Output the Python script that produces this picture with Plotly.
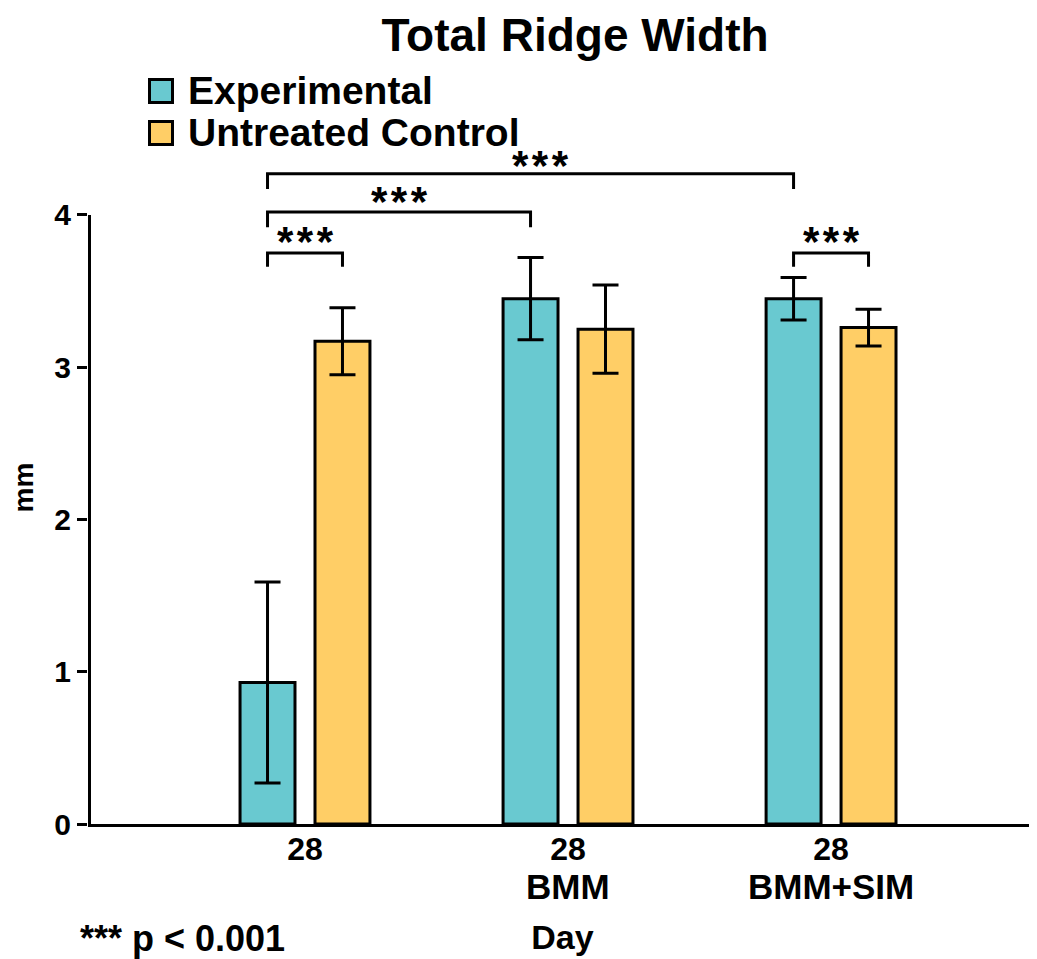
import plotly.graph_objects as go

# ---------------- data ----------------
groups = ["28", "28", "28"]
group_sublabels = ["", "BMM", "BMM+SIM"]
series_names = ["Experimental", "Untreated Control"]
experimental = [0.93, 3.45, 3.45]
experimental_err = [0.66, 0.27, 0.14]
control = [3.17, 3.25, 3.26]
control_err = [0.22, 0.29, 0.12]
y_ticks = [0, 1, 2, 3, 4]

# significance brackets: (group_a, series_a, group_b, series_b, label)
brackets = [
    (0, 0, 0, 1, "***"),
    (0, 0, 1, 0, "***"),
    (0, 0, 2, 0, "***"),
    (2, 0, 2, 1, "***"),
]
bracket_top = [3.75, 4.02, 4.27, 3.75]
bracket_leg = [3.66, 3.92, 4.17, 3.66]
footnote = "*** p < 0.001"

# ---------------- style ----------------
TEAL = "#69C9D0"
GOLD = "#FFCE66"
FONT = "Liberation Sans, Arial, sans-serif"
OFF = 8                       # default page margin of the html body
W, H = 1037 - OFF, 959 - OFF
ML, MR, MT, MB = 80, 0, 143, 135
BARGAP, BARGROUPGAP = 0.43, 0.267
X_RANGE = [-0.825, 2.783]
Y_RANGE = [0, 4.42]
star_xshift = [0, 0, 10, 0]
star_yshift = [12, 10, 8, 12]

half = (1 - BARGAP) / 4.0          # offset of each series from group centre
series_offset = [-half, half]

pw, ph = W - ML - MR, H - MT - MB


def px_x(px):
    return (px - OFF - ML) / pw


def px_y(py):
    return (H - MB - (py - OFF)) / ph


fig = go.Figure()
x_idx = list(range(len(groups)))
for name, vals, errs, col in [
    (series_names[0], experimental, experimental_err, TEAL),
    (series_names[1], control, control_err, GOLD),
]:
    fig.add_trace(go.Bar(
        x=x_idx, y=vals, name=name,
        marker=dict(color=col, line=dict(color="black", width=3)),
        error_y=dict(type="data", array=errs, visible=True,
                     color="black", thickness=3, width=13),
        showlegend=False,
    ))

shapes = []
annotations = []

# y axis line limited to 0..4
shapes.append(dict(type="line", xref="x", yref="y",
                   x0=X_RANGE[0], x1=X_RANGE[0], y0=0, y1=max(y_ticks),
                   line=dict(color="black", width=6), layer="above"))

# brackets
for (ga, sa, gb, sb, lab), yt, yl, xs, ys in zip(brackets, bracket_top, bracket_leg,
                                                star_xshift, star_yshift):
    xa = x_idx[ga] + series_offset[sa]
    xb = x_idx[gb] + series_offset[sb]
    shapes.append(dict(type="path", xref="x", yref="y",
                       path=f"M {xa},{yl} L {xa},{yt} L {xb},{yt} L {xb},{yl}",
                       line=dict(color="black", width=3), layer="above"))
    annotations.append(dict(xref="x", yref="y", x=(xa + xb) / 2, y=yt,
                            text="<b>" + "\u200a".join(lab) + "</b>", showarrow=False,
                            yanchor="middle", yshift=ys, xshift=xs,
                            font=dict(family=FONT, size=42, color="black")))

# group sub-labels under the tick labels
for gi, sub in zip(x_idx, group_sublabels):
    if sub:
        annotations.append(dict(xref="x", yref="paper", x=gi, y=px_y(886),
                                xanchor="center", yanchor="middle", showarrow=False,
                                text=f"<b>{sub}</b>",
                                font=dict(family=FONT, size=35, color="black")))

# manual legend
legend_cols = [TEAL, GOLD]
legend_y_px = [90, 132]
for name, col, ypx in zip(series_names, legend_cols, legend_y_px):
    shapes.append(dict(type="rect", xref="paper", yref="paper",
                       xsizemode="pixel", ysizemode="pixel",
                       xanchor=px_x(161), yanchor=px_y(ypx + 1),
                       x0=-11.5, x1=11.5, y0=-11.5, y1=11.5,
                       fillcolor=col, line=dict(color="black", width=3)))
    annotations.append(dict(xref="paper", yref="paper", x=px_x(186), y=px_y(ypx),
                            xanchor="left", yanchor="middle", showarrow=False,
                            text=f"<b>{name}</b>",
                            font=dict(family=FONT, size=39, color="black")))

# footnote
annotations.append(dict(xref="paper", yref="paper", x=px_x(78), y=px_y(938),
                        xanchor="left", yanchor="middle", showarrow=False,
                        text=f"<b>{footnote}</b>",
                        font=dict(family=FONT, size=36, color="black")))

fig.update_layout(
    width=W, height=H,
    margin=dict(l=ML, r=MR, t=MT, b=MB),
    paper_bgcolor="white", plot_bgcolor="white",
    barmode="group", bargap=BARGAP, bargroupgap=BARGROUPGAP,
    title=dict(text="<b>Total Ridge Width</b>", x=px_x(575), xref="paper",
               xanchor="center", y=1 - (35 - OFF) / H, yanchor="middle",
               font=dict(family=FONT, size=46, color="black")),
    font=dict(family=FONT, color="black"),
    shapes=shapes, annotations=annotations,
    xaxis=dict(range=X_RANGE, tickvals=x_idx,
               ticktext=[f"<b>{g}</b>" for g in groups],
               showline=True, linecolor="black", linewidth=3,
               ticks="", showgrid=False, zeroline=False,
               ticklabelstandoff=-5,
               tickfont=dict(family=FONT, size=32, color="black"),
               title=dict(text="<b>Day</b>", standoff=59,
                          font=dict(family=FONT, size=34, color="black"))),
    yaxis=dict(range=Y_RANGE, tickvals=y_ticks,
               ticktext=[f"<b>{t}</b>" for t in y_ticks],
               showline=False, ticks="outside", ticklen=10, tickwidth=3,
               tickcolor="black", showgrid=False, zeroline=False,
               tickfont=dict(family=FONT, size=30, color="black"),
               title=dict(text="<b>mm</b>", standoff=16,
                          font=dict(family=FONT, size=28, color="black"))),
)

fig.write_html("out.html")
